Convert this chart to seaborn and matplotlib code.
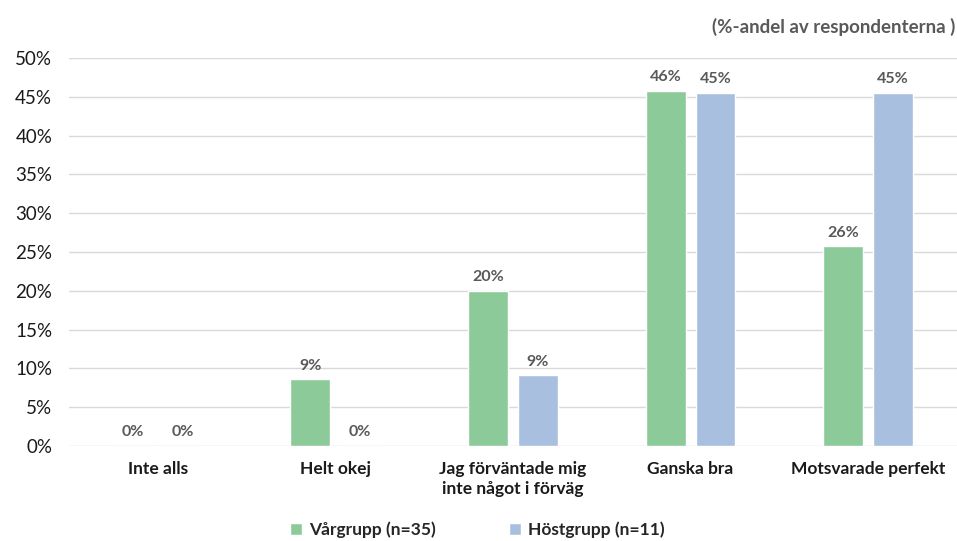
import numpy as np
import pandas as pd
import matplotlib
matplotlib.use('Agg')
import matplotlib.pyplot as plt
import seaborn as sns

sns.set_style("white")
plt.rcParams['font.family'] = ['Lato', 'DejaVu Sans']

# data (percent of respondents)
categories = ['Inte alls', 'Helt okej', 'Jag förväntade mig\ninte något i förväg',
              'Ganska bra', 'Motsvarade perfekt']
var_vals = [0, 8.57, 20.0, 45.71, 25.71]
host_vals = [0, 0, 9.09, 45.45, 45.45]
groups = ['Vårgrupp (n=35)', 'Höstgrupp (n=11)']
colors = ['#8cca9a', '#a9bfe0']

df = pd.DataFrame({
    'cat': categories * 2,
    'val': var_vals + host_vals,
    'grp': [groups[0]] * 5 + [groups[1]] * 5,
})

fig = plt.figure(figsize=(9.57, 5.41), dpi=100)
ax = fig.add_axes([0.072, 0.1756, 0.928, 0.7172])

sns.barplot(data=df, x='cat', y='val', hue='grp', palette=colors,
            width=0.562, gap=0.2, ax=ax, legend=True, saturation=1)

ax.set_ylim(0, 50)
ax.set_xlim(-0.5, 4.5)
ax.set_yticks(np.arange(0, 51, 5))
ax.set_yticklabels(['%d%%' % t for t in range(0, 51, 5)], fontsize=13.5, color='#1a1a1a')
ax.set_xticklabels(categories, fontsize=12.5, color='#1a1a1a', fontweight='bold',
                   linespacing=1.25)
ax.tick_params(axis='y', length=0, pad=12)
ax.tick_params(axis='x', length=0, pad=11)
ax.set_xlabel('')
ax.set_ylabel('')
ax.yaxis.grid(True, color='#d9d9d9', linewidth=1)
ax.set_axisbelow(True)
for s in ['top', 'right', 'left', 'bottom']:
    ax.spines[s].set_visible(False)

for cont in ax.containers:
    ax.bar_label(cont, labels=['%d%%' % round(v) for v in cont.datavalues],
                 padding=5, fontsize=11.5, fontweight='bold', color='#595959')

ax.legend(loc='upper center', bbox_to_anchor=(0.46, -0.155), ncol=2, frameon=False,
          handlelength=0.7, handleheight=0.7, columnspacing=4.2,
          handletextpad=0.4, prop={'weight': 'bold', 'size': 12.5})

fig.text(0.998, 0.95, '(%-andel av respondenterna )', ha='right', va='center',
         fontsize=13.5, fontweight='bold', color='#595959')

fig.savefig('out.png', dpi=100)
